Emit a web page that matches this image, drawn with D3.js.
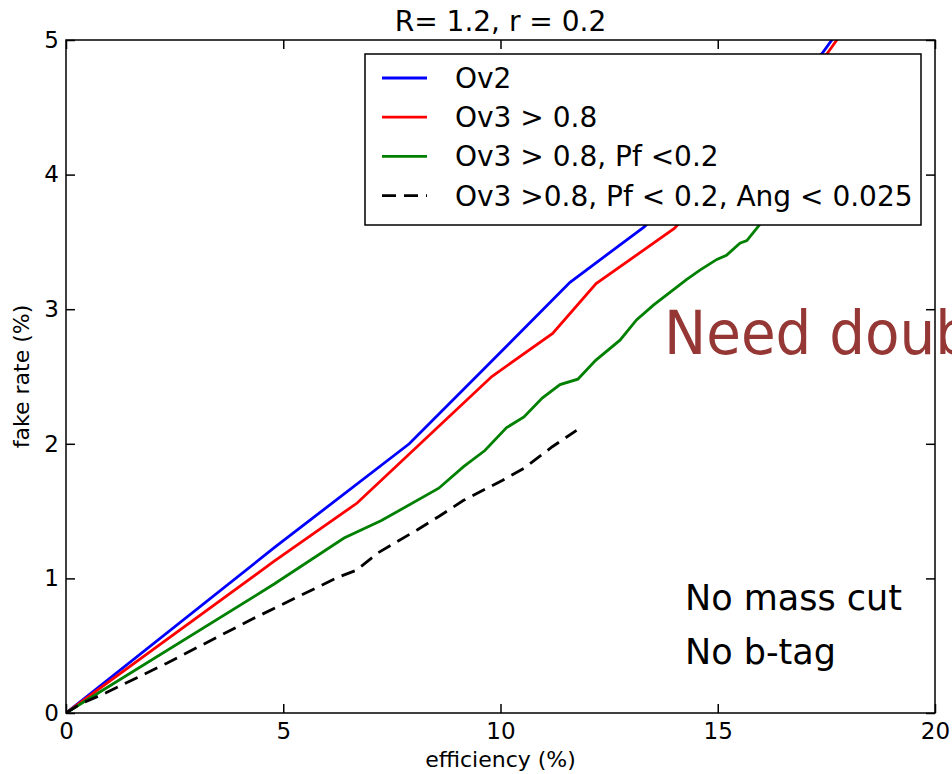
<!DOCTYPE html>
<html>
<head>
<meta charset="utf-8">
<script src="https://cdn.jsdelivr.net/npm/d3@7"></script>
<style>
body { margin: 0; background: #fff; }
svg { display: block; }
text { font-family: "DejaVu Sans", sans-serif; }
</style>
</head>
<body>
<svg id="chart" width="952" height="774"></svg>
<script>
// data
var effOv2  = [0, 4.8, 7.9, 9.6, 11.6, 13.3, 15.5, 17.4, 17.85];
var fakeOv2 = [0, 1.23, 2.0, 2.55, 3.2, 3.61, 4.3, 4.9, 5.1];

var effOv3  = [0, 4.8, 6.7, 9.8, 11.2, 12.2, 14.0, 16.0, 17.52, 17.96];
var fakeOv3 = [0, 1.13, 1.56, 2.5, 2.82, 3.19, 3.6, 4.3, 4.9, 5.1];

var effPf  = [0, 4.8, 6.4, 7.26, 8.58, 9.15, 9.64, 10.14, 10.54, 10.96, 11.37, 11.78, 12.19, 12.75, 13.13, 13.52, 14.28, 14.59, 14.98, 15.2, 15.51, 15.67, 15.97, 16.6];
var fakePf = [0, 0.96, 1.3, 1.43, 1.67, 1.83, 1.95, 2.12, 2.2, 2.34, 2.44, 2.48, 2.62, 2.77, 2.92, 3.03, 3.22, 3.29, 3.37, 3.4, 3.49, 3.51, 3.63, 3.9];

var effAng  = [0, 0.35, 0.92, 2.32, 4.3, 6.27, 6.68, 7.18, 8.08, 8.58, 9.15, 10.05, 10.55, 11.2, 11.75];
var fakeAng = [0, 0.07, 0.15, 0.37, 0.7, 1.01, 1.06, 1.19, 1.36, 1.46, 1.58, 1.73, 1.82, 1.98, 2.1];

var seriesNames = ["Ov2", "Ov3 > 0.8", "Ov3 > 0.8, Pf <0.2", "Ov3 >0.8, Pf < 0.2, Ang < 0.025"];
var xTicks = [0, 5, 10, 15, 20];
var yTicks = [0, 1, 2, 3, 4, 5];

var series = [
	{name: seriesNames[0], x: effOv2, y: fakeOv2, color: "#0000ff", dash: null},
	{name: seriesNames[1], x: effOv3, y: fakeOv3, color: "#ff0000", dash: null},
	{name: seriesNames[2], x: effPf, y: fakePf, color: "#008000", dash: null},
	{name: seriesNames[3], x: effAng, y: fakeAng, color: "#000000", dash: "14,8"}
];

var svg = d3.select("#chart");
// plot box (don't call it "top", that one is taken by window)
var pLeft = 66, pRight = 935, pTop = 40, pBottom = 713;

var x = d3.scaleLinear().domain([0, 20]).range([pLeft, pRight]);
var y = d3.scaleLinear().domain([0, 5]).range([pBottom, pTop]);

svg.append("defs").append("clipPath")
	.attr("id", "plotclip")
	.append("rect")
	.attr("x", pLeft).attr("y", pTop)
	.attr("width", pRight - pLeft).attr("height", pBottom - pTop);

// curves
var line = d3.line()
	.x(function(d) { return x(d[0]); })
	.y(function(d) { return y(d[1]); });

svg.append("g")
	.attr("clip-path", "url(#plotclip)")
	.selectAll("path")
	.data(series)
	.enter()
	.append("path")
	.attr("d", function(s) { return line(d3.zip(s.x, s.y)); })
	.attr("fill", "none")
	.attr("stroke", function(s) { return s.color; })
	.attr("stroke-width", 2.8)
	.attr("stroke-dasharray", function(s) { return s.dash; });

// axes, ticks inside on all four sides
function styleAxis(g) {
	g.select(".domain").remove();
	g.selectAll(".tick line").attr("stroke", "#000").attr("stroke-width", 1.5);
	g.selectAll(".tick text").attr("font-size", 23).attr("fill", "#000")
		.attr("font-family", "DejaVu Sans");
}

svg.append("g")
	.attr("transform", "translate(0," + pBottom + ")")
	.call(d3.axisBottom(x).tickValues(xTicks).tickSizeInner(-9).tickPadding(10).tickFormat(d3.format("d")))
	.call(styleAxis);

svg.append("g")
	.attr("transform", "translate(0," + pTop + ")")
	.call(d3.axisTop(x).tickValues(xTicks).tickSizeInner(-9).tickFormat(""))
	.call(styleAxis);

svg.append("g")
	.attr("transform", "translate(" + pLeft + ",0)")
	.call(d3.axisLeft(y).tickValues(yTicks).tickSizeInner(-9).tickPadding(7).tickFormat(d3.format("d")))
	.call(styleAxis);

svg.append("g")
	.attr("transform", "translate(" + pRight + ",0)")
	.call(d3.axisRight(y).tickValues(yTicks).tickSizeInner(-9).tickFormat(""))
	.call(styleAxis);

svg.append("rect")
	.attr("x", pLeft).attr("y", pTop)
	.attr("width", pRight - pLeft).attr("height", pBottom - pTop)
	.attr("fill", "none")
	.attr("stroke", "#000")
	.attr("stroke-width", 1.5);

// title and axis labels
svg.append("text")
	.attr("x", (pLeft + pRight) / 2).attr("y", 31)
	.attr("text-anchor", "middle")
	.attr("font-size", 28)
	.text("R= 1.2, r = 0.2");

svg.append("text")
	.attr("x", (pLeft + pRight) / 2).attr("y", 767)
	.attr("text-anchor", "middle")
	.attr("font-size", 22)
	.text("efficiency (%)");

svg.append("text")
	.attr("transform", "translate(29," + (pTop + pBottom) / 2 + ") rotate(-90)")
	.attr("text-anchor", "middle")
	.attr("font-size", 22)
	.text("fake rate (%)");

// legend
var legend = svg.append("g").attr("transform", "translate(365,54)");
legend.append("rect")
	.attr("width", 556).attr("height", 171)
	.attr("fill", "#fff")
	.attr("stroke", "#000")
	.attr("stroke-width", 1.5);

var rows = legend.selectAll("g.row")
	.data(series)
	.enter()
	.append("g")
	.attr("class", "row")
	.attr("transform", function(d, i) { return "translate(0," + (24 + i * 39.2) + ")"; });

rows.append("line")
	.attr("x1", 17).attr("x2", 62)
	.attr("stroke", function(d) { return d.color; })
	.attr("stroke-width", 2.8)
	.attr("stroke-dasharray", function(d) { return d.dash; });

rows.append("text")
	.attr("x", 90).attr("dy", "0.36em")
	.attr("font-size", 28)
	.text(function(d) { return d.name; });

// slide annotations pasted on top (the first one runs off the slide)
svg.append("text")
	.attr("transform", "translate(664,354) scale(0.94,1)")
	.attr("font-family", "Lato, 'Open Sans', sans-serif")
	.attr("font-size", 60)
	.attr("fill", "#953735")
	.text("Need double b-tag");

svg.append("text")
	.attr("x", 685).attr("y", 610)
	.attr("font-family", "Lato, 'Open Sans', sans-serif")
	.attr("font-size", 35)
	.attr("fill", "#000")
	.text("No mass cut");

svg.append("text")
	.attr("x", 685).attr("y", 664)
	.attr("font-family", "Lato, 'Open Sans', sans-serif")
	.attr("font-size", 35)
	.attr("fill", "#000")
	.text("No b-tag");
</script>
</body>
</html>
